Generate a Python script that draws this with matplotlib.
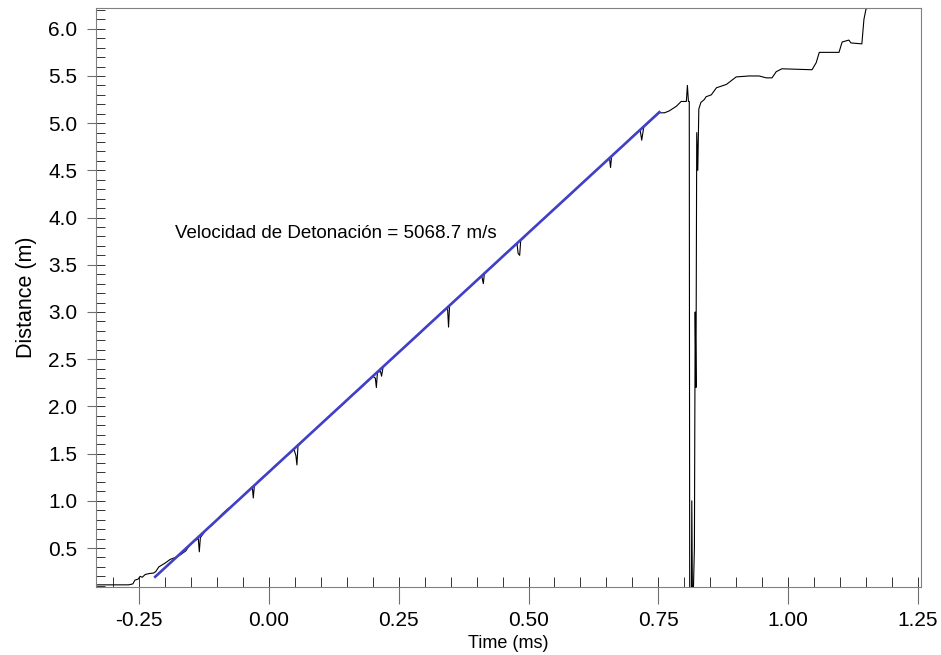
import numpy as np
import matplotlib
matplotlib.use('Agg')
import matplotlib.pyplot as plt
from matplotlib.ticker import MultipleLocator, FormatStrFormatter

plt.rcParams['font.family'] = ['Liberation Sans', 'DejaVu Sans']
plt.rcParams['axes.unicode_minus'] = False

time_ms = [-0.333, -0.270, -0.262, -0.258, -0.252, -0.248, -0.244, -0.238, -0.230, -0.222,
           -0.218, -0.212, -0.200, -0.190, -0.180, -0.170, -0.160, -0.150, -0.142, -0.136,
           -0.134, -0.132, -0.120, -0.110, -0.100, -0.090, -0.080, -0.070, -0.060, -0.050,
           -0.040, -0.032, -0.030, -0.028, -0.020, -0.010, 0.000, 0.010, 0.020, 0.030,
           0.040, 0.048, 0.052, 0.054, 0.056, 0.070, 0.080, 0.090, 0.100, 0.110,
           0.120, 0.130, 0.140, 0.150, 0.160, 0.170, 0.180, 0.190, 0.200, 0.205,
           0.207, 0.209, 0.215, 0.217, 0.220, 0.240, 0.260, 0.270, 0.280, 0.290,
           0.300, 0.310, 0.320, 0.330, 0.340, 0.344, 0.346, 0.348, 0.360, 0.380,
           0.400, 0.410, 0.413, 0.415, 0.430, 0.450, 0.470, 0.478, 0.480, 0.483,
           0.485, 0.490, 0.500, 0.520, 0.540, 0.560, 0.580, 0.600, 0.620, 0.640,
           0.656, 0.658, 0.660, 0.680, 0.700, 0.715, 0.718, 0.722, 0.740, 0.752,
           0.762, 0.771, 0.785, 0.794, 0.804, 0.806, 0.808, 0.8096, 0.8105, 0.8135,
           0.8145, 0.816, 0.8195, 0.821, 0.8225, 0.824, 0.826, 0.828, 0.832, 0.8385,
           0.842, 0.852, 0.862, 0.881, 0.900, 0.925, 0.944, 0.958, 0.969, 0.977,
           0.988, 1.046, 1.054, 1.060, 1.098, 1.104, 1.117, 1.121, 1.142, 1.146,
           1.150, 1.162]
distance_m = [0.11, 0.11, 0.12, 0.16, 0.17, 0.20, 0.19, 0.22, 0.23, 0.235,
              0.25, 0.30, 0.34, 0.38, 0.40, 0.43, 0.47, 0.55, 0.58, 0.60,
              0.46, 0.61, 0.70, 0.74, 0.80, 0.86, 0.91, 0.95, 1.00, 1.05,
              1.10, 1.15, 1.03, 1.16, 1.21, 1.26, 1.30, 1.36, 1.41, 1.46,
              1.50, 1.55, 1.48, 1.38, 1.58, 1.66, 1.71, 1.76, 1.81, 1.86,
              1.91, 1.96, 2.01, 2.06, 2.12, 2.16, 2.21, 2.27, 2.32, 2.30,
              2.20, 2.36, 2.37, 2.32, 2.42, 2.52, 2.62, 2.67, 2.72, 2.77,
              2.83, 2.88, 2.93, 2.98, 3.03, 3.05, 2.84, 3.07, 3.13, 3.23,
              3.33, 3.38, 3.30, 3.41, 3.48, 3.59, 3.69, 3.72, 3.62, 3.60,
              3.76, 3.78, 3.84, 3.94, 4.04, 4.14, 4.24, 4.35, 4.45, 4.55,
              4.63, 4.53, 4.65, 4.75, 4.86, 4.93, 4.82, 4.96, 5.05, 5.11,
              5.11, 5.13, 5.18, 5.23, 5.23, 5.40, 5.23, 5.23, -0.30, -0.30,
              1.00, -0.30, 0.50, 3.00, 2.20, 4.90, 4.50, 5.15, 5.22, 5.25,
              5.28, 5.30, 5.375, 5.41, 5.49, 5.50, 5.50, 5.48, 5.48, 5.545,
              5.576, 5.566, 5.64, 5.75, 5.75, 5.86, 5.88, 5.85, 5.84, 6.10,
              6.21, 6.23]

# linear fit endpoints
fit_time = [-0.219, 0.752]
fit_dist = [0.195, 5.117]
vod_text = 'Velocidad de Detonación = 5068.7 m/s'

fig = plt.figure(figsize=(9.41, 6.55), dpi=100)
ax = fig.add_axes([0.102, 0.1038, 0.8768, 0.884])

ax.plot(time_ms, distance_m, color='black', lw=0.8)
ax.plot(fit_time, fit_dist, color='#4040c8', lw=1.9)

ax.text(-0.181, 3.83, vod_text, fontsize=13.5, va='center', ha='left')

ax.set_xlim(-0.333, 1.256)
ax.set_ylim(0.087, 6.22)

ax.xaxis.set_major_locator(MultipleLocator(0.25))
ax.xaxis.set_minor_locator(MultipleLocator(0.05))
ax.yaxis.set_major_locator(MultipleLocator(0.5))
ax.yaxis.set_minor_locator(MultipleLocator(0.1))
ax.xaxis.set_major_formatter(FormatStrFormatter('%.2f'))
ax.yaxis.set_major_formatter(FormatStrFormatter('%.1f'))
ax.xaxis.remove_overlapping_locs = False
ax.yaxis.remove_overlapping_locs = False

ax.tick_params(axis='x', which='major', direction='out', length=12.2, width=0.8,
               color='#707070', pad=5, labelsize=15)
ax.tick_params(axis='y', which='major', direction='out', length=6.5, width=0.8,
               color='#707070', pad=7, labelsize=15)
ax.tick_params(which='minor', direction='in', length=7, width=0.7, color='#333333')
ax.tick_params(axis='y', which='minor', length=6.5)

for s in ax.spines.values():
    s.set_color('#808080')
    s.set_linewidth(0.8)

ax.set_xlabel('Time (ms)', fontsize=13, labelpad=4)
ax.set_ylabel('Distance (m)', fontsize=15.5, labelpad=8)

fig.savefig('out.png', dpi=100)
